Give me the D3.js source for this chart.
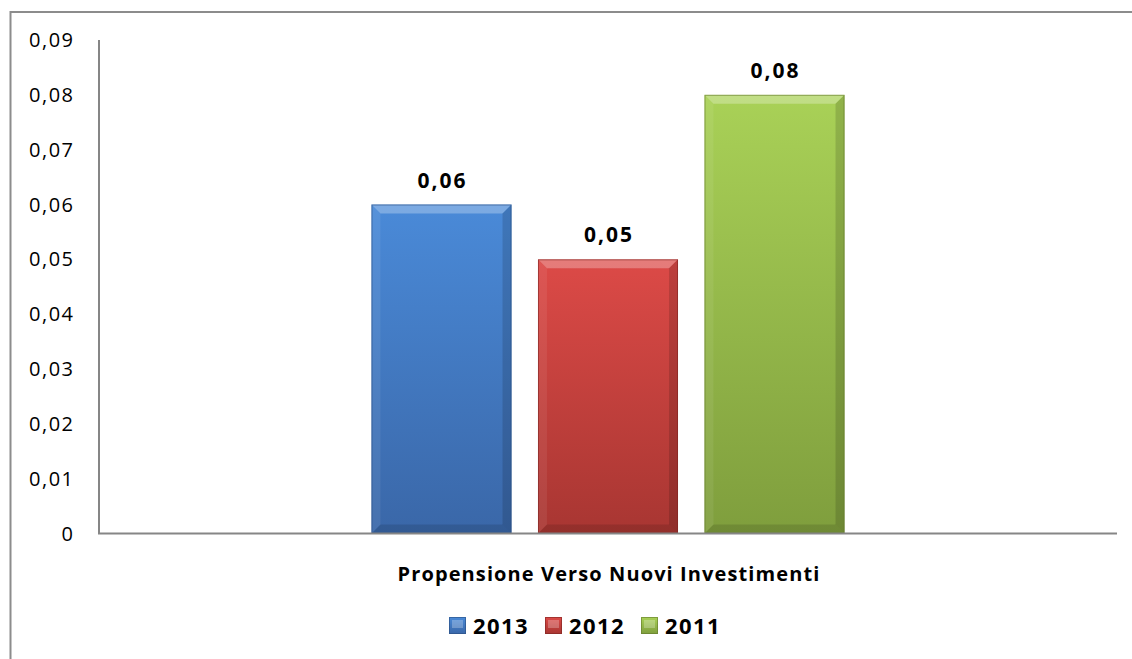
<!DOCTYPE html>
<html>
<head>
<meta charset="utf-8">
<script src="https://cdn.jsdelivr.net/npm/d3@7"></script>
<style>
  body { margin: 0; background: #fff; }
  svg { display: block; font-family: "Open Sans", "Noto Sans", sans-serif; }
</style>
</head>
<body>
<div></div>
<script>
var width = 1132,
    height = 659;

// data
var category = "Propensione Verso Nuovi Investimenti";
var years = ["2013", "2012", "2011"];
var values = [0.06, 0.05, 0.08];
var yTicks = [0, 0.01, 0.02, 0.03, 0.04, 0.05, 0.06, 0.07, 0.08, 0.09];

// colours per year: [top, bottom, edge]
var colors = {
  "2013": ["#4a8ad8", "#3a67a8", "#2a4f82"],
  "2012": ["#dc4a47", "#a83632", "#7e2422"],
  "2011": ["#a9d157", "#7f9e3d", "#627a2c"]
};

var plot = { left: 99, right: 1117, top: 40, bottom: 533.5 };

var svg = d3.select("div").append("svg")
    .attr("width", width)
    .attr("height", height);

var defs = svg.append("defs");
years.forEach(function (yr) {
  var g = defs.append("linearGradient")
      .attr("id", "grad" + yr)
      .attr("x1", 0).attr("y1", 0).attr("x2", 0).attr("y2", 1);
  g.append("stop").attr("offset", "0%").attr("stop-color", colors[yr][0]);
  g.append("stop").attr("offset", "100%").attr("stop-color", colors[yr][1]);
});

// outer chart border (runs off right and bottom)
svg.append("path")
    .attr("d", "M10.5," + (height + 5) + "V12H" + (width + 5))
    .attr("fill", "none")
    .attr("stroke", "#8c8c8c")
    .attr("stroke-width", 2);

var y = d3.scaleLinear()
    .domain([0, 0.09])
    .range([plot.bottom, plot.top]);

var x0 = d3.scaleBand()
    .domain([category])
    .range([plot.left, plot.right])
    .paddingInner(0)
    .paddingOuter(0.576);

var x1 = d3.scaleBand()
    .domain(years)
    .range([0, x0.bandwidth()])
    .paddingInner(0.159)
    .paddingOuter(0);

var locale = d3.formatLocale({ decimal: ",", thousands: ".", grouping: [3], currency: ["", "€"] });
var fmt = locale.format(".2f");
function label(d) { return d === 0 ? "0" : fmt(d); }

// y tick labels
svg.append("g")
  .selectAll("text")
  .data(yTicks)
  .join("text")
    .attr("x", 74.5)
    .attr("y", function (d) { return y(d); })
    .attr("dy", "0.35em")
    .attr("text-anchor", "end")
    .attr("font-size", 20)
    .attr("letter-spacing", 1.5)
    .attr("fill", "#000")
    .text(label);

// bars
var bars = svg.append("g")
  .selectAll("g")
  .data(years.map(function (yr, i) { return { year: yr, value: values[i] }; }))
  .join("g")
    .attr("transform", function (d) { return "translate(" + (x0(category) + x1(d.year)) + ",0)"; });

var bw = x1.bandwidth();
var bev = 9;

bars.append("rect")
    .attr("x", 0)
    .attr("y", function (d) { return y(d.value); })
    .attr("width", bw)
    .attr("height", function (d) { return y(0) - y(d.value); })
    .attr("fill", function (d) { return "url(#grad" + d.year + ")"; });

// bevel: top highlight
bars.append("path")
    .attr("d", function (d) {
      var t = y(d.value);
      return "M0," + t + "H" + bw + "L" + (bw - bev) + "," + (t + bev) + "H" + bev + "Z";
    })
    .attr("fill", "#fff")
    .attr("opacity", 0.28);
// left side
bars.append("path")
    .attr("d", function (d) {
      var t = y(d.value), b = y(0);
      return "M0," + t + "L" + bev + "," + (t + bev) + "V" + (b - bev) + "L0," + b + "Z";
    })
    .attr("fill", "#fff")
    .attr("opacity", 0.07);
// right side
bars.append("path")
    .attr("d", function (d) {
      var t = y(d.value), b = y(0);
      return "M" + bw + "," + t + "L" + (bw - bev) + "," + (t + bev) + "V" + (b - bev) + "L" + bw + "," + b + "Z";
    })
    .attr("fill", "#000")
    .attr("opacity", 0.14);
// bottom
bars.append("path")
    .attr("d", function (d) {
      var b = y(0);
      return "M0," + b + "L" + bev + "," + (b - bev) + "H" + (bw - bev) + "L" + bw + "," + b + "Z";
    })
    .attr("fill", "#000")
    .attr("opacity", 0.12);
// edge outline
bars.append("rect")
    .attr("x", 0.5)
    .attr("y", function (d) { return y(d.value) + 0.5; })
    .attr("width", bw - 1)
    .attr("height", function (d) { return y(0) - y(d.value) - 1; })
    .attr("fill", "none")
    .attr("stroke", function (d) { return colors[d.year][2]; })
    .attr("stroke-opacity", 0.6);

// value labels
bars.append("text")
    .attr("x", bw / 2 + 1)
    .attr("y", function (d) { return y(d.value) - 17; })
    .attr("text-anchor", "middle")
    .attr("font-size", 21)
    .attr("font-weight", "bold")
    .attr("letter-spacing", 2)
    .text(function (d) { return fmt(d.value); });

// axes lines
svg.append("line")
    .attr("x1", plot.left).attr("x2", plot.left)
    .attr("y1", plot.top).attr("y2", plot.bottom)
    .attr("stroke", "#868686").attr("stroke-width", 2);
svg.append("line")
    .attr("x1", plot.left - 1).attr("x2", plot.right)
    .attr("y1", plot.bottom).attr("y2", plot.bottom)
    .attr("stroke", "#868686").attr("stroke-width", 2);

// category label
svg.append("text")
    .attr("x", x0(category) + x0.bandwidth() / 2 + 1)
    .attr("y", 581)
    .attr("text-anchor", "middle")
    .attr("font-size", 20)
    .attr("font-weight", "bold")
    .attr("letter-spacing", 1.1)
    .text(category);

// legend
var legendX = [449, 545, 641];
var legend = svg.append("g")
  .selectAll("g")
  .data(years)
  .join("g")
    .attr("transform", function (d, i) { return "translate(" + legendX[i] + ",617)"; });

legend.append("rect")
    .attr("width", 17).attr("height", 17)
    .attr("fill", function (d) { return "url(#grad" + d + ")"; });
legend.append("rect")
    .attr("x", 3).attr("y", 3).attr("width", 11).attr("height", 8)
    .attr("fill", "#fff").attr("opacity", 0.25);
legend.append("rect")
    .attr("x", 0.5).attr("y", 0.5).attr("width", 16).attr("height", 16)
    .attr("fill", "none")
    .attr("stroke", function (d) { return colors[d][2]; })
    .attr("stroke-opacity", 0.6);
legend.append("text")
    .attr("x", 24)
    .attr("y", 9)
    .attr("dy", "0.35em")
    .attr("font-size", 22)
    .attr("font-weight", "bold")
    .attr("letter-spacing", 1.4)
    .text(function (d) { return d; });
</script>
</body>
</html>
